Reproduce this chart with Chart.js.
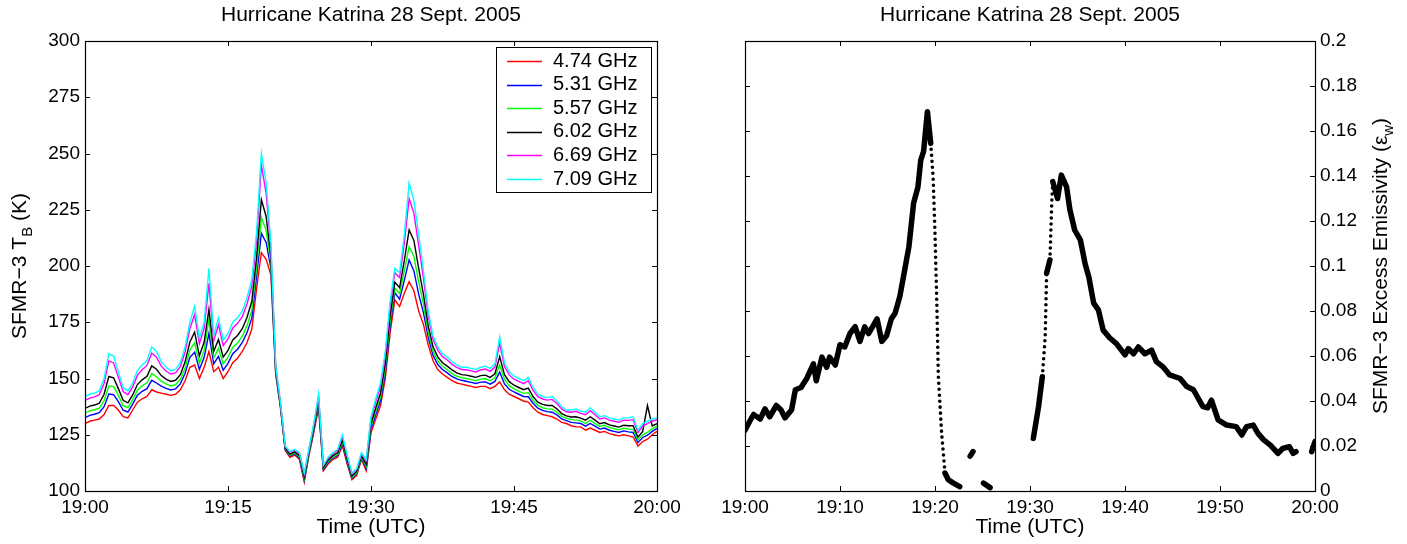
<!DOCTYPE html>
<html>
<head>
<meta charset="utf-8">
<script src="https://cdn.jsdelivr.net/npm/chart.js@4.4.1/dist/chart.umd.min.js"></script>
<style>
  html, body { margin: 0; padding: 0; background: #fff; }
  .panel { position: absolute; top: 0; height: 544px; }
</style>
</head>
<body>
<div class="panel" style="left:0; width:704px;"><canvas id="tbChart" width="704" height="544"></canvas></div>
<div class="panel" style="left:704px; width:703px;"><canvas id="emisChart" width="703" height="544"></canvas></div>
<script type="text/javascript">
// minutes after 19:00 UTC
var minutes = [0,0.5,1,1.5,2,2.5,3,3.5,4,4.5,5,5.5,6,6.5,7,7.5,8,8.5,9,9.5,
  10,10.5,11,11.5,12,12.5,13,13.5,14,14.5,15,15.5,16,16.5,17,17.5,18,18.5,19,19.5,
  20,20.5,21,21.5,22,22.5,23,23.5,24,24.5,25,25.5,26,26.5,27,27.5,28,28.5,29,29.5,
  30,30.5,31,31.5,32,32.5,33,33.5,34,34.5,35,35.5,36,36.5,37,37.5,38,38.5,39,39.5,
  40,40.5,41,41.5,42,42.5,43,43.5,44,44.5,45,45.5,46,46.5,47,47.5,48,48.5,49,49.5,
  50,50.5,51,51.5,52,52.5,53,53.5,54,54.5,55,55.5,56,56.5,57,57.5,58,58.5,59,59.5,60];

var channelLabels = ["4.74 GHz", "5.31 GHz", "5.57 GHz", "6.02 GHz", "6.69 GHz", "7.09 GHz"];
var channelColors = ["#ff0000", "#0000ff", "#00ff00", "#000000", "#ff00ff", "#00ffff"];

var tb474 = [130,131,131.5,132,134,138,138,136,133,132.5,
  136,139.5,141,142,145,144,143.5,143,142.5,143,
  145,149,155,156,150,155,162,153,155,150,
  153,157,159,162,166,172,190,206,203,196,
  152,137,118,115,116,114,104,116,126,137,
  109,112,114,115,120,112,105,107,114,109,
  126,132,138,150,170,185,182,188,193,189,
  180,174,165,158,154,152,150.5,149,148,147.5,
  147,146.5,146,146.5,146.5,145.5,146.5,148.5,145,143,
  142,141,140,139.5,137,135,134,133.5,133,132,
  130.5,130,129,128.5,128.5,127,128,127,126,126.5,
  125.5,125,124.5,125,124.5,124,120,122,123,125,126.5];
var tb531 = [132.6,133.6,134.1,134.8,137.5,143.1,142.8,139.7,135.9,135.1,
  138.6,142.6,144.3,145.5,149.2,148,146.6,145.6,144.9,145.4,
  147.6,152.3,159.4,161.7,154,159.4,170.1,156.5,159.8,153.7,
  156.7,161,163,166,170.4,176.8,195.5,214.5,210.5,199.1,
  152.9,137.6,118.4,115.6,116.6,114.7,104.9,116.7,126.9,138.3,
  109.6,112.7,114.7,115.8,121.1,112.9,105.7,107.7,114.7,110.1,
  127.5,134,140.2,152.6,173.1,188.1,185.3,193.7,202.7,197.8,
  187.5,179.3,168.3,160.4,156.2,154,152.5,150.9,149.8,149.2,
  148.8,148.3,147.8,148.4,148.5,147.5,148.7,152.9,147.6,145.2,
  144,143,142,141.9,139,136.8,135.8,135.3,135,133.8,
  132,131.3,130.5,130.3,130,128.8,130,128.8,127.5,128,
  127,126.5,126,126.7,126.3,126,121.5,123.8,124.8,126.5,127.8];
var tb557 = [134.6,135.6,136.1,136.8,140.1,146.7,146.4,142.5,137.9,137.1,
  140.6,144.8,146.7,148.1,152.2,150.8,148.8,147.6,146.7,147.2,
  149.6,154.7,162.6,165.9,156.8,162.6,176.1,159.1,163.4,156.5,
  159.5,163.8,165.8,168.8,173.6,180.4,199.5,221.5,215.9,201.3,
  153.5,138,118.8,116,117,115.1,105.5,117.1,127.5,139.3,
  110,113.1,115.1,116.3,121.9,113.5,106.1,108.1,115.1,110.9,
  128.7,135.4,141.8,154.6,175.3,190.3,187.7,197.9,208.6,204.2,
  192.9,183.1,170.7,162.2,157.8,155.4,153.9,152.2,151,150.4,
  150,149.5,149,149.7,149.9,148.9,150.3,156.1,149.6,146.8,
  145.4,144.4,143.4,143.7,140.4,138,137,136.5,136.4,135,
  133.2,132.3,131.7,131.5,131.2,130,131.4,130,128.7,129.2,
  128.2,127.7,127.2,127.9,127.5,127.4,122.7,125,126,127.7,128.8];
var tb602 = [136.7,137.7,138.2,139,143,150.9,150.3,145.5,140.3,139.2,
  142.7,147.3,149.4,151,155.6,154.1,151.3,149.7,148.7,149.2,
  151.7,157.4,166.2,170.6,160.1,166.2,180.7,162,167.3,159.5,
  162.5,167.1,169.1,172.1,177.2,184.3,204,229.5,222,203.8,
  154.2,138.4,119.1,116.4,117.4,115.7,106.2,117.7,128.2,140.4,
  110.4,113.7,115.7,117,122.8,114.2,106.7,108.7,115.7,111.8,
  129.9,137,143.6,156.7,177.8,192.8,190.4,202.6,216,211.4,
  199,187.4,173.4,164.2,159.6,157,155.5,153.8,152.5,151.7,
  151.5,151,150.5,151.3,151.5,150.5,152.1,159.7,151.7,148.6,
  147,146,145,145.7,142,139.5,138.5,138,138,136.5,
  134.4,133.4,132.9,133,132.4,131.5,133,131.5,129.9,130.4,
  129.4,128.9,128.4,129.2,129,129,123.9,126.5,138,128.9,129.9];
var tb669 = [140.3,141.3,141.8,142.8,147.8,157.8,156.9,150.6,144.2,142.8,
  146.3,151.5,153.9,155.8,161.3,159.5,155.5,153.3,152,152.5,
  155.3,161.9,172.2,178.4,165.5,172.2,192.3,166.8,173.9,164.6,
  167.6,172.5,174.5,177.5,183.2,190.9,211.5,245,232.2,208,
  155.4,139.2,119.7,117.2,118.2,116.6,107.4,118.6,129.4,142.2,
  111.2,114.6,116.6,118,124.3,115.4,107.6,109.6,116.6,113.3,
  132,139.7,146.6,160.3,182,197,194.9,210.4,230,223.4,
  209.2,194.6,177.9,167.5,162.6,159.7,158.2,156.3,154.9,154,
  153.9,153.4,152.9,153.8,154.2,153.2,155.1,165.7,155.3,151.6,
  149.7,148.7,147.7,149,144.7,141.9,140.9,140.4,140.7,138.9,
  136.5,135.2,135,135.4,134.5,133.9,135.7,133.9,132,132.5,
  131.5,131,130.5,131.5,131.4,131.7,126,128.9,129.9,131,131.7];
var tb709 = [142,143,143.5,144.5,150,161,160,153,146,144.5,
  148,153.5,156,158,164,162,157.5,155,153.5,154,
  157,164,175,182,168,175,199,169,177,167,
  170,175,177,180,186,194,215,250,237,210,
  156,139.5,120,117.5,118.5,117,108,119,130,143,
  111.5,115,117,118.5,125,116,108,110,117,114,
  133,141,148,162,184,199,197,214,237,229,
  214,198,180,169,164,161,159.5,157.5,156,155,
  155,154.5,154,155,155.5,154.5,156.5,168.5,157,153,
  151,150,149,150.5,146,143,142,141.5,142,140,
  137.5,136,136,136.5,135.5,135,137,135,133,133.5,
  132.5,132,131.5,132.5,132.5,133,127,130,131,132,132.5];

// excess emissivity, minutes after 19:00 (null = no retrieval)
var emisMinutes = [0,0.5,0.9,1.6,2.1,2.6,3.3,3.8,4.2,4.9,
  5.3,5.9,6.5,7.2,7.5,8.1,8.6,8.9,9.5,10,
  10.5,11.05,11.6,12.1,12.6,13,13.5,13.9,14.4,14.9,
  15.4,15.8,16.3,16.8,17.25,17.75,18.2,18.5,18.8,19.2,
  19.55,19.8,20,20.2,20.35,20.7,21.05,21.4,21.9,22.6,
  23,23.7,24,24.5,25.1,25.8,27,30.35,30.9,31.3,
  31.6,31.75,32.1,32.3,32.4,32.9,33.3,33.85,34.2,34.7,
  35.3,35.8,36.2,36.7,37.2,37.7,38.4,39.1,40,40.35,
  40.9,41.4,42.1,42.8,43.3,44,44.7,45.8,46.5,47.2,
  48.2,48.7,49.1,49.8,50.7,51.7,52.3,52.8,53.5,54,
  54.6,55.3,56.1,56.6,57.3,57.7,58,58.8,59.65,60];
var emisValues = [0.027,0.031,0.034,0.032,0.0365,0.033,0.038,0.036,0.0325,0.036,
  0.045,0.046,0.050,0.0565,0.049,0.0595,0.055,0.0595,0.056,0.065,
  0.064,0.070,0.073,0.0665,0.073,0.070,0.0735,0.0765,0.0665,0.069,
  0.0765,0.079,0.0865,0.098,0.1085,0.128,0.135,0.147,0.151,0.1686,
  0.1545,0.1397,0.1145,0.082,0.051,0.0256,0.008,0.005,0.0036,0.0019,
  null,0.0155,0.0175,null,0.0035,0.0015,null,0.0234,0.0375,0.0508,
  0.0686,0.0968,0.1027,0.1293,0.1375,0.130,0.1404,0.1352,0.125,0.116,
  0.1116,0.101,0.095,0.0835,0.0805,0.0715,0.068,0.0655,0.0605,0.0633,
  0.061,0.064,0.061,0.0626,0.0575,0.0552,0.0516,0.050,0.0464,0.045,
  0.0375,0.037,0.0404,0.0316,0.0293,0.0286,0.0249,0.0286,0.0293,0.0256,
  0.0227,0.0204,0.0167,0.0189,0.0197,0.0167,0.0175,null,0.0175,0.022];

var chartTitle = "Hurricane Katrina 28 Sept. 2005";
var FONT = '"Liberation Sans", Arial, Helvetica, sans-serif';
var tickFont = { family: FONT, size: 19 };

function timeLabel(v) {
  if (v >= 60) return "20:00";
  return "19:" + (v < 10 ? "0" : "") + v;
}

// draw a string made of parts, some of them subscripts, centered at x,y
function drawParts(ctx, parts, x, y, rot, size) {
  var main = size + "px " + FONT;
  var sub = Math.round(size * 0.72) + "px " + FONT;
  ctx.save();
  ctx.translate(x, y);
  ctx.rotate(rot);
  ctx.fillStyle = "#000";
  ctx.textBaseline = "middle";
  ctx.textAlign = "left";
  var widths = [], total = 0;
  parts.forEach(function (p) {
    ctx.font = p.sub ? sub : main;
    var w = ctx.measureText(p.t).width;
    widths.push(w); total += w;
  });
  var cx = -total / 2;
  parts.forEach(function (p, i) {
    ctx.font = p.sub ? sub : main;
    ctx.fillText(p.t, cx, p.sub ? size * 0.38 : 0);
    cx += widths[i];
  });
  ctx.restore();
}

// MATLAB-like frame with inward ticks on all four sides
var framePlugin = {
  id: "frame",
  afterDatasetsDraw: function (chart) {
    var ctx = chart.ctx, a = chart.chartArea, sx = chart.scales.x, sy = chart.scales.y;
    var len = 5;
    ctx.save();
    ctx.strokeStyle = "#000";
    ctx.lineWidth = 1;
    ctx.beginPath();
    sx.ticks.forEach(function (t) {
      var px = Math.round(sx.getPixelForValue(t.value)) + 0.5;
      ctx.moveTo(px, a.bottom); ctx.lineTo(px, a.bottom - len);
      ctx.moveTo(px, a.top); ctx.lineTo(px, a.top + len);
    });
    sy.ticks.forEach(function (t) {
      var py = Math.round(sy.getPixelForValue(t.value)) + 0.5;
      ctx.moveTo(a.left, py); ctx.lineTo(a.left + len, py);
      ctx.moveTo(a.right, py); ctx.lineTo(a.right - len, py);
    });
    ctx.stroke();
    ctx.lineWidth = 1.2;
    ctx.strokeRect(Math.round(a.left) + 0.5, Math.round(a.top) + 0.5,
      Math.round(a.right - a.left), Math.round(a.bottom - a.top));
    ctx.restore();
  }
};

// title, axis titles (with subscripts) and the boxed legend
var textPlugin = {
  id: "texts",
  afterDraw: function (chart, args, opts) {
    var ctx = chart.ctx, a = chart.chartArea;
    var cx = (a.left + a.right) / 2, cy = (a.top + a.bottom) / 2;
    drawParts(ctx, [{ t: chartTitle }], cx, 15, 0, 21);
    drawParts(ctx, [{ t: "Time (UTC)" }], cx, 527, 0, 21);
    drawParts(ctx, opts.yTitle, opts.yTitleX, cy, -Math.PI / 2, 21);
    if (opts.legend) {
      var lg = opts.legend;
      ctx.save();
      ctx.fillStyle = "#fff";
      ctx.fillRect(lg.x, lg.y, lg.w, lg.h);
      ctx.strokeStyle = "#000";
      ctx.lineWidth = 1;
      ctx.strokeRect(lg.x + 0.5, lg.y + 0.5, lg.w, lg.h);
      ctx.font = "20px " + FONT;
      ctx.textBaseline = "middle";
      chart.data.datasets.forEach(function (ds, i) {
        var y = lg.y + 14 + i * 23.6;
        ctx.strokeStyle = ds.borderColor;
        ctx.lineWidth = 1.3;
        ctx.beginPath();
        ctx.moveTo(lg.x + 11, Math.round(y) + 0.5);
        ctx.lineTo(lg.x + 46, Math.round(y) + 0.5);
        ctx.stroke();
        ctx.fillStyle = "#000";
        ctx.fillText(ds.label, lg.x + 57, y);
      });
      ctx.restore();
    }
  }
};

var tbSeries = [tb474, tb531, tb557, tb602, tb669, tb709];

new Chart("tbChart", {
  type: "line",
  data: {
    datasets: tbSeries.map(function (vals, i) {
      return {
        label: channelLabels[i],
        data: minutes.map(function (m, j) { return { x: m, y: vals[j] }; }),
        borderColor: channelColors[i],
        backgroundColor: channelColors[i],
        borderWidth: 1.4,
        pointRadius: 0,
        tension: 0,
        order: 5 - i
      };
    })
  },
  options: {
    responsive: false,
    animation: false,
    layout: { padding: { left: 0, right: 47, top: 41, bottom: 0 } },
    plugins: {
      legend: { display: false },
      tooltip: { enabled: false },
      texts: {
        yTitle: [{ t: "SFMR\u22123 T" }, { t: "B", sub: true }, { t: " (K)" }],
        yTitleX: 20,
        legend: { x: 496, y: 47, w: 155, h: 145 }
      }
    },
    scales: {
      x: {
        type: "linear", min: 0, max: 60,
        grid: { display: false, drawTicks: false },
        border: { display: false },
        ticks: { stepSize: 15, callback: timeLabel, font: tickFont, color: "#000", padding: 5, maxRotation: 0, autoSkip: false },
        afterFit: function (s) { s.height = 53; s.paddingLeft = 0; s.paddingRight = 0; }
      },
      y: {
        min: 100, max: 300,
        grid: { display: false, drawTicks: false },
        border: { display: false },
        ticks: { stepSize: 25, font: tickFont, color: "#000", padding: 5 },
        afterFit: function (s) { s.width = 85; s.paddingTop = 0; s.paddingBottom = 0; }
      }
    }
  },
  plugins: [framePlugin, textPlugin]
});

// fast-changing stretches show up as separated samples
function isSteep(ctx) {
  var dx = Math.abs(ctx.p1.x - ctx.p0.x), dy = Math.abs(ctx.p1.y - ctx.p0.y);
  return dy / Math.max(dx, 0.01) > 11.5;
}

new Chart("emisChart", {
  type: "line",
  data: {
    datasets: [{
      label: "Excess emissivity",
      data: emisMinutes.map(function (m, j) { return { x: m, y: emisValues[j] }; }),
      borderColor: "#000",
      backgroundColor: "#000",
      borderWidth: 5.5,
      borderCapStyle: "round",
      borderJoinStyle: "round",
      pointRadius: 0,
      spanGaps: false,
      tension: 0,
      segment: {
        borderDash: function (ctx) { return isSteep(ctx) ? [0, 6] : undefined; },
        borderWidth: function (ctx) { return isSteep(ctx) ? 3.6 : undefined; }
      }
    }]
  },
  options: {
    responsive: false,
    animation: false,
    layout: { padding: { left: 41, right: 0, top: 41, bottom: 0 } },
    plugins: {
      legend: { display: false },
      tooltip: { enabled: false },
      texts: {
        yTitle: [{ t: "SFMR\u22123 Excess Emissivity (\u03b5" }, { t: "w", sub: true }, { t: ")" }],
        yTitleX: 677
      }
    },
    scales: {
      x: {
        type: "linear", min: 0, max: 60,
        grid: { display: false, drawTicks: false },
        border: { display: false },
        ticks: { stepSize: 10, callback: timeLabel, font: tickFont, color: "#000", padding: 5, maxRotation: 0, autoSkip: false },
        afterFit: function (s) { s.height = 53; s.paddingLeft = 0; s.paddingRight = 0; }
      },
      y: {
        position: "right",
        min: 0, max: 0.2,
        grid: { display: false, drawTicks: false },
        border: { display: false },
        ticks: {
          stepSize: 0.02, font: tickFont, color: "#000", padding: 5,
          callback: function (v) { return String(parseFloat(v.toFixed(2))); }
        },
        afterFit: function (s) { s.width = 92; s.paddingTop = 0; s.paddingBottom = 0; }
      }
    }
  },
  plugins: [framePlugin, textPlugin]
});
</script>
</body>
</html>
